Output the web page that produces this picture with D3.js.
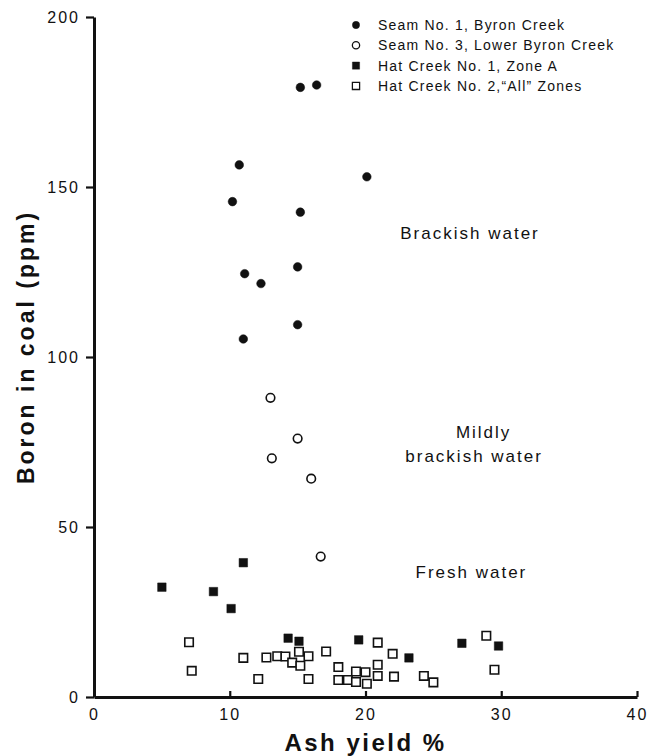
<!DOCTYPE html>
<html><head><meta charset="utf-8">
<script src="https://cdn.jsdelivr.net/npm/d3@7"></script>
<style>
body{margin:0;background:#fff}
svg text{font-family:"Liberation Sans",Arial,Helvetica,sans-serif;fill:#111}
</style>
</head><body>
<svg id="chart" width="647" height="756"></svg>
<script>
// ---- data ----
const seriesNames = ["Seam No. 1, Byron Creek", "Seam No. 3, Lower Byron Creek", "Hat Creek No. 1, Zone A", "Hat Creek No. 2,\u201CAll\u201D Zones"];

const seam1Ash   = [10.7, 20.1, 10.2, 15.2, 11.1, 12.3, 15.0, 15.0, 11.0, 15.2, 16.4];
const seam1Boron = [156.5, 153, 145.7, 142.6, 124.5, 121.6, 126.5, 109.5, 105.3, 179.3, 180];

const seam3Ash   = [13.0, 15.0, 13.1, 16.0, 16.7];
const seam3Boron = [88, 76, 70.2, 64.2, 41.3];

const hat1Ash   = [5.0, 8.8, 10.1, 11.0, 14.3, 15.1, 19.5, 23.2, 27.1, 29.8];
const hat1Boron = [32.3, 31, 26, 39.5, 17.3, 16.4, 16.8, 11.5, 15.8, 15];

const hat2Ash   = [7.0, 7.2, 11.0, 12.1, 12.7, 13.5, 14.1, 14.6, 15.1, 15.2, 15.8, 15.8, 17.1, 18.0, 18.0, 18.7, 19.3, 19.3, 20.0, 20.1, 20.9, 20.9, 20.9, 22.0, 22.1, 24.3, 25.0, 28.9, 29.5];
const hat2Boron = [16.1, 7.7, 11.5, 5.3, 11.6, 12.0, 11.9, 10.1, 13.3, 9.2, 12.0, 5.3, 13.4, 8.8, 5.0, 5.0, 7.5, 4.4, 7.3, 3.9, 16.0, 9.5, 6.2, 12.7, 6.0, 6.2, 4.3, 18.0, 8.0];

const xTicks = [0, 10, 20, 30, 40];
const yTicks = [0, 50, 100, 150, 200];

const annotations = [
  {text: "Brackish water", x: 27.7, y: 136.5},
  {text: "Mildly", x: 28.7, y: 78},
  {text: "brackish water", x: 28.0, y: 71},
  {text: "Fresh water", x: 27.8, y: 36.8}
];

// ---- layout ----
const svg = d3.select("#chart");
const x = d3.scaleLinear().domain([0, 40]).range([94, 637]);
const y = d3.scaleLinear().domain([0, 200]).range([697, 17]);

// axes
const gx = svg.append("g").attr("transform", `translate(0,${y(0)})`)
  .call(d3.axisBottom(x).tickValues(xTicks).tickSizeInner(-6).tickSizeOuter(0).tickPadding(12));
const gy = svg.append("g").attr("transform", `translate(${x(0)},0)`)
  .call(d3.axisLeft(y).tickValues(yTicks).tickSizeInner(8).tickSizeOuter(0).tickPadding(6));
[gx, gy].forEach(g => {
  g.select(".domain").attr("stroke", "#111").attr("stroke-width", 3);
  g.selectAll(".tick line").attr("stroke", "#111").attr("stroke-width", 2.2);
  g.selectAll(".tick text").attr("font-size", 16).attr("fill", "#111")
    .attr("letter-spacing", 2)
    .style("font-family", '"Liberation Sans",Arial,sans-serif');
});

// axis titles
svg.append("text").attr("x", x(20)).attr("y", 751).attr("text-anchor", "middle")
  .attr("font-size", 24).attr("font-weight", "bold").attr("letter-spacing", 2.5).text("Ash yield %");
svg.append("text").attr("transform", `translate(34,347) rotate(-90)`)
  .attr("text-anchor", "middle").attr("font-size", 23).attr("font-weight", "bold")
  .attr("letter-spacing", 3).text("Boron in coal (ppm)");

// marks
const sym = {
  circle: d3.symbol().type(d3.symbolCircle).size(58),
  square: d3.symbol().type(d3.symbolSquare).size(72)
};
function plot(xs, ys, kind, filled) {
  svg.append("g").selectAll("path").data(xs.map((v, i) => [v, ys[i]])).join("path")
    .attr("d", sym[kind])
    .attr("transform", d => `translate(${x(d[0])},${y(d[1])})`)
    .attr("fill", filled ? "#111" : "#fff")
    .attr("stroke", "#111").attr("stroke-width", filled ? 0.5 : 1.6);
}
plot(hat2Ash, hat2Boron, "square", false);
plot(hat1Ash, hat1Boron, "square", true);
plot(seam3Ash, seam3Boron, "circle", false);
plot(seam1Ash, seam1Boron, "circle", true);

// annotations
svg.append("g").selectAll("text").data(annotations).join("text")
  .attr("x", d => x(d.x)).attr("y", d => y(d.y)).attr("dy", "0.35em")
  .attr("text-anchor", "middle").attr("font-size", 17).attr("letter-spacing", 2)
  .text(d => d.text);

// legend
const legendKinds = [["circle", true], ["circle", false], ["square", true], ["square", false]];
const lg = svg.append("g");
seriesNames.forEach((name, i) => {
  const yy = 25 + i * 20.3;
  lg.append("path").attr("d", sym[legendKinds[i][0]])
    .attr("transform", `translate(356,${yy}) scale(0.85)`)
    .attr("fill", legendKinds[i][1] ? "#111" : "#fff")
    .attr("stroke", "#111").attr("stroke-width", legendKinds[i][1] ? 0.5 : 1.5);
  lg.append("text").attr("x", 378).attr("y", yy).attr("dy", "0.35em")
    .attr("font-size", 14).attr("letter-spacing", 1.2).text(name);
});
</script>
</body></html>
